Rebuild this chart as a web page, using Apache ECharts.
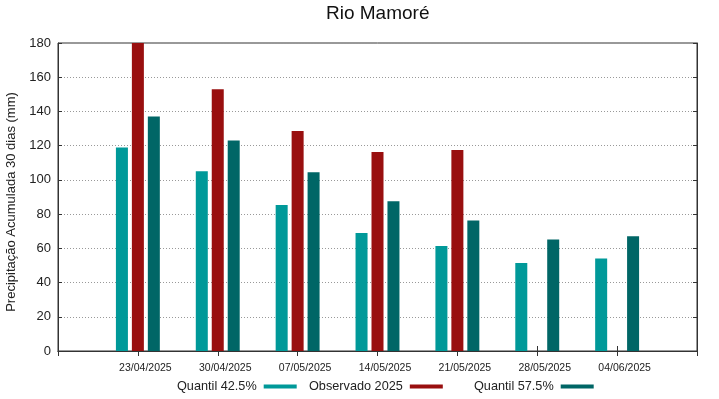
<!DOCTYPE html>
<html>
<head>
<meta charset="utf-8">
<title>Rio Mamoré</title>
<script src="https://cdn.jsdelivr.net/npm/echarts@6/dist/echarts.min.js"></script>
<style>
  html, body { margin: 0; padding: 0; background: #fff; }
  #chart { width: 719px; height: 399px; }
</style>
</head>
<body>
<div id="chart"></div>
<script>
// datas (com posições vazias nas bordas, como no gnuplot)
var categories = ['', '23/04/2025', '30/04/2025', '07/05/2025', '14/05/2025', '21/05/2025', '28/05/2025', '04/06/2025', ''];
var quantil425 = [null, 119, 105, 85.3, 69, 61.3, 51.5, 54, null];
var observado2025 = [null, 180, 153, 128.6, 116.3, 117.5, null, null, null];
var quantil575 = [null, 137, 123, 104.4, 87.5, 76.3, 65.2, 67, null];
var yTicks = [0, 20, 40, 60, 80, 100, 120, 140, 160, 180];

var font = 'Liberation Sans, Arial, sans-serif';
var chart = echarts.init(document.getElementById('chart'), null, { renderer: 'canvas' });

function legendAt(name, left) {
  return {
    data: [name],
    left: left,
    top: 380,
    padding: 0,
    align: 'right',
    icon: 'rect',
    itemWidth: 33,
    itemHeight: 4,
    itemGap: 0,
    textStyle: { fontFamily: font, fontSize: 12.7, color: '#222', padding: [0, 2, 0, 0] },
    selectedMode: false
  };
}

chart.setOption({
  animation: false,
  title: {
    text: 'Rio Mamoré',
    left: 326,
    top: 4,
    padding: 0,
    textStyle: { fontFamily: font, fontSize: 19, fontWeight: 'normal', color: '#111' }
  },
  legend: [
    legendAt('Quantil 42.5%', 177),
    legendAt('Observado 2025', 309),
    legendAt('Quantil 57.5%', 474)
  ],
  grid: {
    left: 58, right: 22, top: 43, bottom: 48,
    outerBoundsMode: 'none',
    show: true,
    borderColor: '#333',
    borderWidth: 1
  },
  xAxis: [{
    type: 'category',
    data: categories,
    boundaryGap: false,
    axisLine: { lineStyle: { color: '#333', width: 1 } },
    axisTick: { inside: true, length: 5, lineStyle: { color: '#333' } },
    axisLabel: {
      fontFamily: font, fontSize: 10.5, color: '#222', margin: 12, interval: 0,
      padding: [0, 0, 0, 15]
    },
    splitLine: { show: false }
  }, {
    type: 'category',
    data: categories,
    position: 'top',
    boundaryGap: false,
    axisLine: { show: true, lineStyle: { color: '#333', width: 1 } },
    axisTick: { show: true, inside: true, length: 5, lineStyle: { color: '#333' } },
    axisLabel: { show: false }
  }],
  yAxis: [{
    type: 'value',
    min: 0,
    max: 180,
    interval: 20,
    name: 'Precipitação Acumulada 30 dias (mm)',
    nameLocation: 'middle',
    nameGap: 33,
    nameTextStyle: { fontFamily: font, fontSize: 13, color: '#222', padding: [0, 10, 0, 0] },
    axisLine: { show: true, lineStyle: { color: '#333', width: 1 } },
    axisTick: { show: true, inside: true, length: 4, lineStyle: { color: '#333' } },
    axisLabel: {
      fontFamily: font, fontSize: 13, color: '#222', margin: 7,
      formatter: function (v) { return yTicks.indexOf(v) >= 0 ? String(v) : ''; }
    },
    splitLine: { show: true, lineStyle: { color: '#999', type: [1, 2], width: 1 } }
  }, {
    type: 'value',
    min: 0,
    max: 180,
    interval: 20,
    position: 'right',
    axisLine: { show: true, lineStyle: { color: '#333', width: 1 } },
    axisTick: { show: true, inside: true, length: 4, lineStyle: { color: '#333' } },
    axisLabel: { show: false },
    splitLine: { show: false }
  }],
  series: [{
    name: 'Quantil 42.5%',
    type: 'bar',
    data: quantil425,
    barWidth: 12,
    barGap: '33%',
    itemStyle: { color: '#009999' }
  }, {
    name: 'Observado 2025',
    type: 'bar',
    data: observado2025,
    barWidth: 12,
    barGap: '33%',
    itemStyle: { color: '#990f0f' }
  }, {
    name: 'Quantil 57.5%',
    type: 'bar',
    data: quantil575,
    barWidth: 12,
    barGap: '33%',
    itemStyle: { color: '#006666' }
  }]
});
</script>
</body>
</html>
